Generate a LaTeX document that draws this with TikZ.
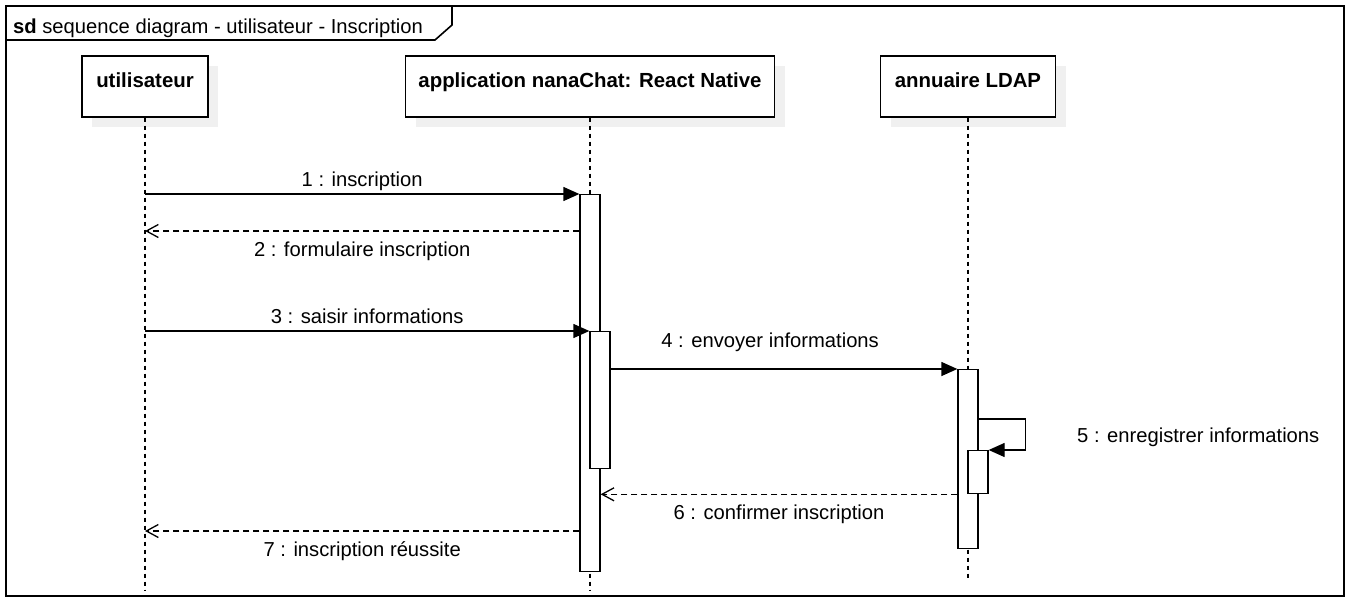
\documentclass[tikz,border=0pt]{standalone}
\usepackage{fontspec}
\setmainfont{Liberation Sans}
\usetikzlibrary{arrows.meta, shadows}

\tikzset{
  head/.style={draw, line width=1.3pt, fill=white, minimum height=61pt, inner sep=0pt,
    text height=14pt, text depth=12pt, font=\fontsize{20.4}{24}\selectfont\bfseries,
    drop shadow={shadow xshift=10pt, shadow yshift=-10pt, fill=black!6, opacity=1}},
  act/.style={draw, line width=1.3pt, fill=white, minimum width=20pt, inner sep=0pt, anchor=north},
  life/.style={line width=1.2pt, dash pattern=on 4pt off 4pt},
  lbl/.style={inner sep=0pt, text height=14pt, text depth=4pt, font=\fontsize{20.2}{24}\selectfont},
  sync/.style={line width=1.3pt, -{Triangle[length=16pt, width=14pt]}},
  reply/.style={line width=1.3pt, dash pattern=on 6pt off 4pt, -{Straight Barb[length=12pt, width=13pt]}}
}

\begin{document}
\begin{tikzpicture}[x=1pt, y=-1pt]
    \useasboundingbox (0,0) rectangle (1350,602);

    % frame
    \draw[line width=1.6pt] (6,6) rectangle (1344,596);
    \draw[line width=1.6pt] (6,40) -- (435,40) -- (452,25) -- (452,6);
    \node[lbl, anchor=west] (title) at (13,29) {\textbf{sd} sequence diagram - utilisateur - Inscription};

    % lifelines
    \node[head, minimum width=126pt] (u) at (145,86.5) {utilisateur};
    \node[head, minimum width=369pt] (app) at (590,86.5) {application nanaChat: React Native};
    \node[head, minimum width=175pt] (ldap) at (968,86.5) {annuaire LDAP};

    \coordinate (uend) at (145,590);
    \coordinate (aend) at (590,590);
    \coordinate (lend) at (968,580);
    \draw[life] (u) -- (uend);
    \draw[life] (app) -- (aend);
    \draw[life] (ldap) -- (lend);

    % activations
    \node[act, minimum height=377pt] (a1) at (590,194) {};
    \node[act, minimum height=137pt] (a2) at (600,331) {};
    \node[act, minimum height=179pt] (l1) at (968,369) {};
    \node[act, minimum height=43pt] (l2) at (978,450) {};

    \coordinate (m2) at (0,231);
    \coordinate (m5) at (0,419);
    \coordinate (m7) at (0,531);

    % messages
    \draw[sync] (u |- a1.north) -- (a1.north west)
        node[lbl, midway, above=3pt] (t1) {1 : inscription};
    \draw[reply] (a1.west |- m2) -- (u |- m2)
        node[lbl, midway, below=11pt] (t2) {2 : formulaire inscription};
    \draw[sync] (u |- a2.north) -- (a2.north west)
        node[lbl, midway, above=3pt] (t3) {3 : saisir informations};
    \draw[sync] (a2.east |- l1.north) -- (l1.north west)
        node[lbl, pos=0.46, above=17pt] (t4) {4 : envoyer informations};
    \draw[sync] (l1.east |- m5) -- ++(47,0) |- (l2.north east);
    \node[lbl, anchor=west] (t5) at (1077,437) {5 : enregistrer informations};
    \draw[reply] (l1.west |- l2.south) -- (a1.east |- l2.south)
        node[lbl, midway, below=11pt] (t6) {6 : confirmer inscription};
    \draw[reply] (a1.west |- m7) -- (u |- m7)
        node[lbl, midway, below=11pt] (t7) {7 : inscription réussite};
\end{tikzpicture}
\end{document}
